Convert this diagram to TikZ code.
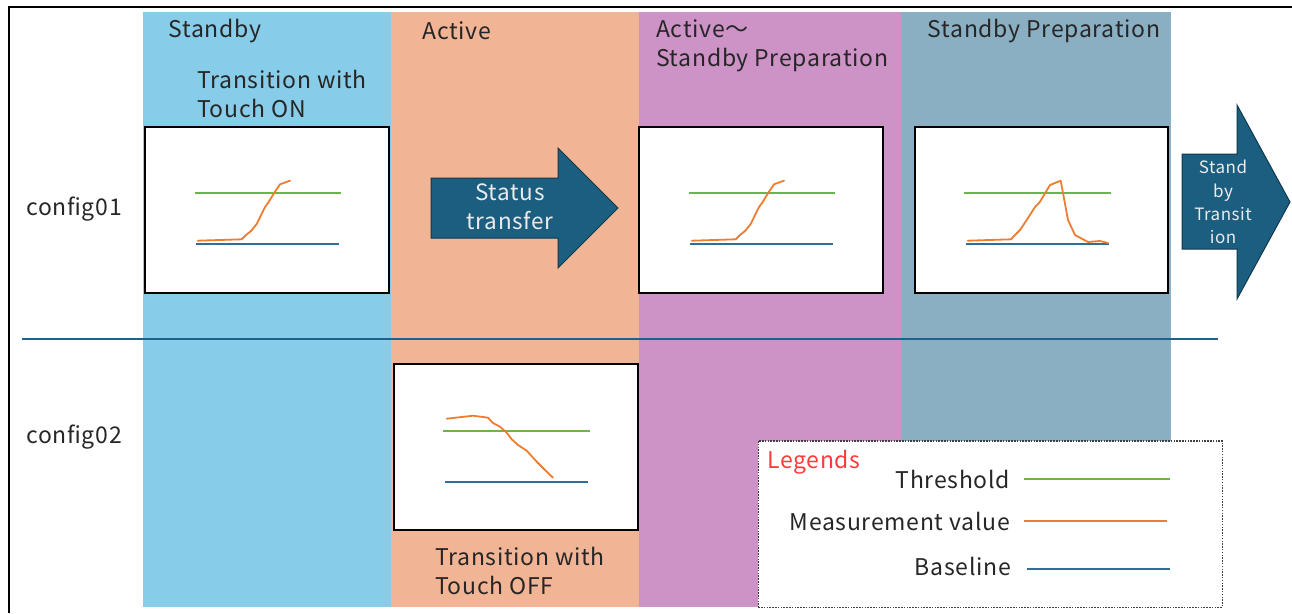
\documentclass[tikz,border=0pt]{standalone}
\usepackage{fontspec}
\setmainfont{Noto Sans CJK JP}[LetterSpace=3]
\definecolor{cStandby}{HTML}{87CCE9}
\definecolor{cActive}{HTML}{F1B595}
\definecolor{cMid}{HTML}{CD92C6}
\definecolor{cPrep}{HTML}{8AAFC2}
\definecolor{cArrow}{HTML}{1B5E80}
\definecolor{cArrowEdge}{HTML}{0E3950}
\definecolor{cGreen}{HTML}{6DB548}
\definecolor{cOrange}{HTML}{ED7D31}
\definecolor{cBlue}{HTML}{2E6E98}
\definecolor{cDiv}{HTML}{1F6289}
\definecolor{cText}{HTML}{262626}
\definecolor{cRed}{HTML}{FF3B3B}
\begin{document}
\begin{tikzpicture}[x=1pt,y=-1pt,
  col/.style={draw=none, inner sep=0, outer sep=0, anchor=north west},
  plotbox/.style={draw=black, fill=white, line width=2, inner sep=0, outer sep=0, anchor=north west, minimum width=244, minimum height=166},
  thr/.style={draw=cGreen, line width=2},
  base/.style={draw=cBlue, line width=2},
  meas/.style={draw=cOrange, line width=1.8, line join=round, line cap=round},
  arrowbody/.style={fill=cArrow, draw=cArrowEdge, line width=1, line join=miter},
  arrowtext/.style={text=white!92!black, align=center, inner sep=0},
  lbl/.style={font=\fontsize{23}{29}\selectfont, text=cText, inner sep=0},
  divider/.style={draw=cDiv, line width=1.6},
  legendbox/.style={draw=black!75, fill=white, line width=1.5, dash pattern=on 1.5pt off 1.3pt, inner sep=0, anchor=north west}
]
\useasboundingbox (0,0) rectangle (1292,613);
% outer frame
\coordinate (fb) at (9,613);
\coordinate (fc) at (9,7);
\coordinate (fr) at (1292,7);
\draw[line width=2] (fb) -- (fc) -- (fr);
% columns
\node[col, fill=cStandby, minimum width=247.5, minimum height=595] (colA) at (143,11.5) {};
\node[col, fill=cActive, minimum width=248, minimum height=595] (colB) at (390.5,11.5) {};
\node[col, fill=cMid, minimum width=262, minimum height=595] (colC) at (638.5,11.5) {};
\node[col, fill=cPrep, minimum width=270, minimum height=595] (colD) at (900.5,11.5) {};
% divider
\coordinate (dl) at (22,339);
\coordinate (dr) at (1218,339);
\draw[divider] (dl) -- (dr);
% plot boxes
\node[plotbox] (p1) at (145,127) {};
\node[plotbox] (p3) at (639,127) {};
\node[plotbox, minimum width=253] (p4) at (915,127) {};
\node[plotbox] (p2) at (394,364) {};
% plot 1 and 3 (rise)
\foreach \dx in {0,494}{
\begin{scope}[xshift=\dx]
\draw[thr] (195,193) -- (341,193);
\draw[base] (196,244) -- (339,244);
\draw[meas] (197.7,240.7) -- (241.7,239.3) -- (246,235) -- (251,231) -- (256.7,224) -- (265,207) -- (268,203) -- (275,191.7) -- (280,184.3) -- (290,180.7);
\end{scope}
}
% plot 4 (peak)
\draw[thr] (964,193) -- (1111,193);
\draw[base] (966,244) -- (1109,244);
\draw[meas] (967.7,240.7) -- (1011,239.3) -- (1015,235) -- (1020,230) -- (1026.7,220) -- (1035,207) -- (1040,201.7) -- (1050,185) -- (1060.7,180.7) -- (1063,193) -- (1068,220) -- (1075,235) -- (1088,242) -- (1100,241) -- (1108,243);
% plot 2 (fall)
\draw[thr] (443,431) -- (590,431);
\draw[base] (445,482) -- (588,482);
\draw[meas] (446.7,418.7) -- (473,415.7) -- (488,417.7) -- (493,423) -- (500,426.7) -- (506.7,432.7) -- (511.7,439.3) -- (518,445) -- (526.7,450.7) -- (536.7,461.7) -- (545,470) -- (553,477.7);
% status transfer arrow
\path[arrowbody] (431,178) -- (558,178) -- (558,148) -- (618,208) -- (558,268) -- (558,238) -- (431,238) -- cycle;
\node[arrowtext, font=\fontsize{22.5}{29}\selectfont] (st) at (510,207) {Status\\transfer};
% standby transition arrow
\path[arrowbody] (1182,154) -- (1237,154) -- (1237,105) -- (1290,202) -- (1237,299) -- (1237,249) -- (1182,249) -- cycle;
\node[arrowtext, font=\fontsize{17}{23.3}\selectfont] (sb) at (1223,202) {Stand\\by\\Transit\\ion};
% legend
\node[legendbox, minimum width=464, minimum height=166.5] (leg) at (757.5,440) {};
\node[lbl, text=cRed, anchor=west] (legT) at (767,462) {Legends};
\node[lbl, anchor=east] (lgThr) at (1010,479) {Threshold};
\node[lbl, anchor=east] (lgMeas) at (1010,521) {Measurement value};
\node[lbl, anchor=east] (lgBase) at (1011,566) {Baseline};
\coordinate (g1) at (1024,479); \coordinate (g2) at (1170,479);
\coordinate (o1) at (1024,521); \coordinate (o2) at (1167,521);
\coordinate (b1) at (1027,569); \coordinate (b2) at (1170,569);
\draw[thr] (g1) -- (g2);
\draw[meas, line cap=butt] (o1) -- (o2);
\draw[base] (b1) -- (b2);
% column titles
\node[lbl] (tA) at (215,31) {Standby};
\node[lbl] (tB) at (457,31) {Active};
\node[lbl, anchor=west, align=left] (tC) at (656,46) {Active～\\Standby Preparation};
\node[lbl] (tD) at (1044,31) {Standby Preparation};
\node[lbl, anchor=west, align=left] (tOn) at (197,94) {Transition with\\Touch ON};
\node[lbl, anchor=west, align=left] (tOff) at (435,571) {Transition with\\Touch OFF};
% row labels
\node[lbl] (r1) at (74,209) {config01};
\node[lbl] (r2) at (74,437) {config02};
\end{tikzpicture}
\end{document}
